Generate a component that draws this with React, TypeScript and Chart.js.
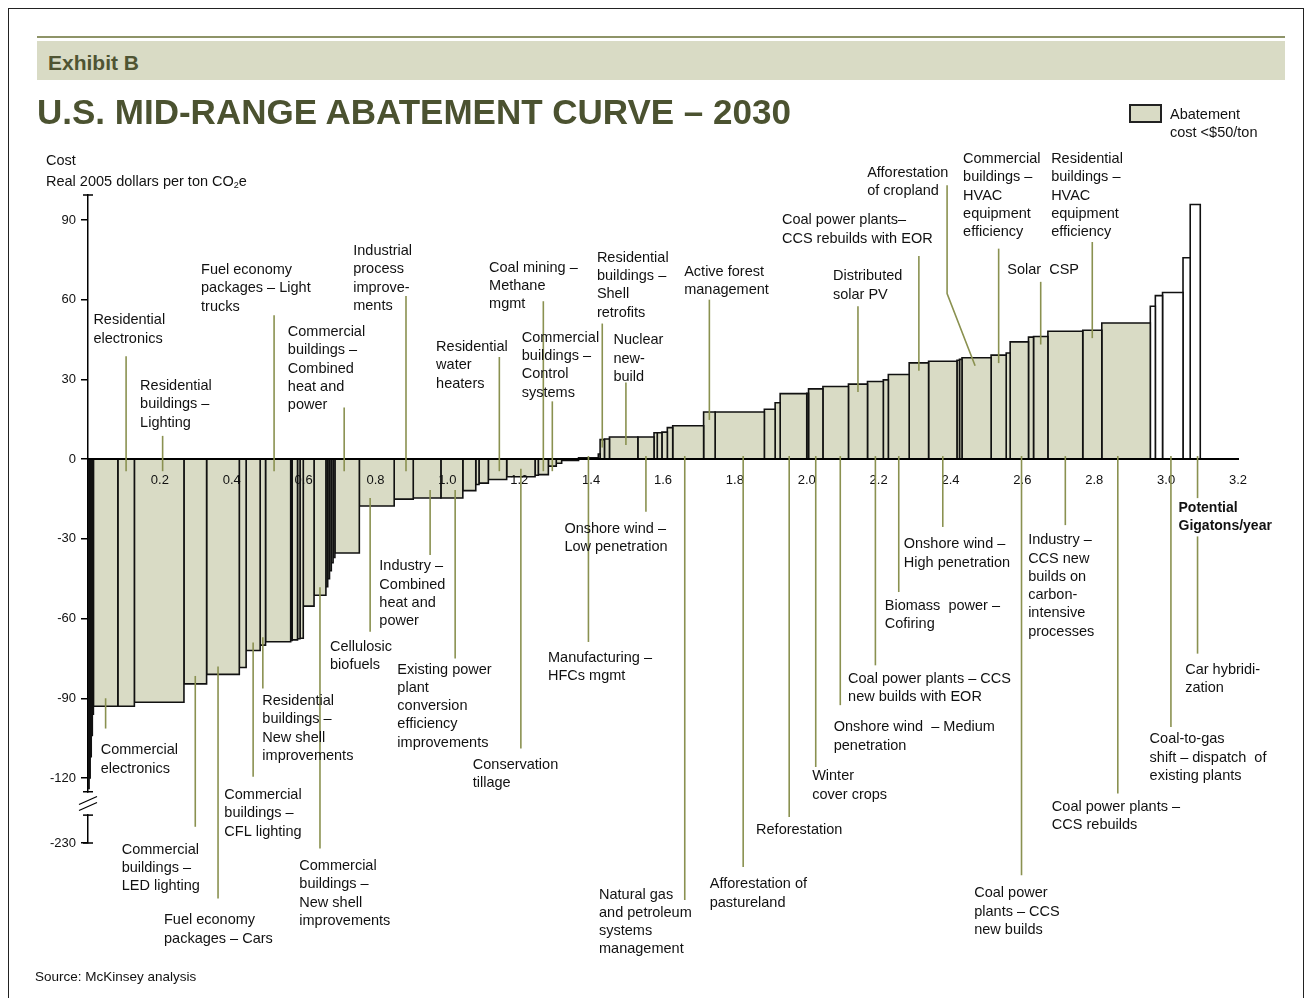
import React, { useEffect, useRef } from 'react';
import { Chart, registerables } from 'chart.js';

Chart.register(...registerables);

// ---- Data: abatement levers in curve order ----
// potential of each lever, Gigatons CO2e per year (bar widths)
const potentials: number[] = [
  0.003, 0.003, 0.003, 0.003, 0.003, 0.068, 0.046, 0.138, 0.063, 0.091,
  0.019, 0.039, 0.015, 0.070, 0.004, 0.015, 0.007, 0.009, 0.030, 0.033,
  0.005, 0.005, 0.005, 0.005, 0.005, 0.068, 0.097, 0.053, 0.077, 0.061,
  0.036, 0.009, 0.026, 0.051, 0.079, 0.009, 0.028, 0.022, 0.015, 0.047,
  0.055, 0.005, 0.012, 0.014, 0.079, 0.045, 0.009, 0.013, 0.015, 0.015,
  0.086, 0.032, 0.137, 0.030, 0.014, 0.074, 0.005, 0.040, 0.071, 0.053,
  0.044, 0.014, 0.058, 0.054, 0.079, 0.007, 0.007, 0.081, 0.042, 0.011,
  0.051, 0.014, 0.040, 0.097, 0.053, 0.135, 0.014, 0.020, 0.057, 0.020,
  0.028,
];
// cost of each lever, real 2005 dollars per ton CO2e (bar heights, axis units)
const costs: number[] = [
  -124, -120, -112, -104, -96, -93, -93, -91.5, -84.6, -81,
  -78.4, -72, -70, -68.7, -68.2, -68, -67.6, -67.4, -55.3, -51.2,
  -48, -45, -42, -39, -37, -35.3, -17.6, -15, -14.6, -14.6,
  -11.8, -9.5, -9, -7.6, -6.6, -6, -5.8, -2.6, -1.5, -0.5,
  0.5, 2, 7.4, 7.6, 8.4, 8.4, 10, 10, 10.2, 11.9,
  12.6, 17.8, 17.8, 18.8, 21.3, 24.7, 24.8, 26.5, 27.4, 28.3,
  29.3, 29.9, 31.9, 36.3, 36.9, 37.3, 37.6, 38.2, 39.2, 40,
  44.2, 46, 46.2, 48.2, 48.6, 51.3, 57.6, 61.6, 62.8, 75.9,
  95.9,
];
const shadedBelow = 55; // levers drawn shaded (legend: abatement cost < $50/ton)

const xMin = 0;
const xMax = 3.2;
const xStep = 0.2;
const yMin = -144.5; // position of the broken-axis "-230" tick
const yMax = 99.5;
const yTickValues = [90, 60, 30, 0, -30, -60, -90, -120, -144.5];
const yTickLabels = ['90', '60', '30', '0', '-30', '-60', '-90', '-120', '-230'];

type Note = { lines: string[]; bar: number; frac?: number; end: number; tx: number; ty: number; bend?: [number, number] };
// Callout labels: lever index, leader end (cost units), label anchor (Gt, cost)
const notes: Note[] = [
  { lines: ['Residential', 'electronics'], bar: 6, end: 38.8, tx: 0.015, ty: 52.3 },
  { lines: ['Residential', 'buildings –', 'Lighting'], bar: 7, frac: 0.57, end: 8.8, tx: 0.145, ty: 27.6 },
  { lines: ['Fuel economy', 'packages – Light', 'trucks'], bar: 13, frac: 0.34, end: 54.2, tx: 0.3145, ty: 71.2 },
  { lines: ['Commercial', 'buildings –', 'Combined', 'heat and', 'power'], bar: 25, frac: 0.38, end: 19.5, tx: 0.556, ty: 47.9 },
  { lines: ['Industrial', 'process', 'improve-', 'ments'], bar: 27, frac: 0.62, end: 61.5, tx: 0.738, ty: 78.4 },
  { lines: ['Residential', 'water', 'heaters'], bar: 33, frac: 0.6, end: 38.5, tx: 0.9686, ty: 42.3 },
  { lines: ['Coal mining –', 'Methane', 'mgmt'], bar: 36, end: 59.5, tx: 1.116, ty: 72.2 },
  { lines: ['Commercial', 'buildings –', 'Control', 'systems'], bar: 37, end: 21.8, tx: 1.207, ty: 45.8 },
  { lines: ['Residential', 'buildings –', 'Shell', 'retrofits'], bar: 42, end: 51.1, tx: 1.416, ty: 75.9 },
  { lines: ['Nuclear', 'new-', 'build'], bar: 44, frac: 0.58, end: 28.9, tx: 1.462, ty: 44.8 },
  { lines: ['Active forest', 'management'], bar: 51, end: 60.1, tx: 1.659, ty: 70.5 },
  { lines: ['Distributed', 'solar PV'], bar: 59, end: 57.6, tx: 2.073, ty: 68.9 },
  { lines: ['Coal power plants–', 'CCS rebuilds with EOR'], bar: 63, end: 76.5, tx: 1.931, ty: 90 },
  { lines: ['Afforestation', 'of cropland'], bar: 67, frac: 0.45, end: 103.2, tx: 2.168, ty: 107.9, bend: [2.3905, 62.4] },
  { lines: ['Commercial', 'buildings –', 'HVAC', 'equipment', 'efficiency'], bar: 68, end: 79.3, tx: 2.435, ty: 113 },
  { lines: ['Residential', 'buildings –', 'HVAC', 'equipment', 'efficiency'], bar: 74, end: 81.8, tx: 2.68, ty: 113 },
  { lines: ['Solar  CSP'], bar: 72, end: 66.8, tx: 2.558, ty: 71.2 },
  { lines: ['Commercial', 'electronics'], bar: 5, end: -101.4, tx: 0.0353, ty: -109.6 },
  { lines: ['Commercial', 'buildings –', 'LED lighting'], bar: 8, end: -138.4, tx: 0.0938, ty: -147 },
  { lines: ['Fuel economy', 'packages – Cars'], bar: 9, frac: 0.35, end: -165.4, tx: 0.2115, ty: -173.6 },
  { lines: ['Commercial', 'buildings –', 'CFL lighting'], bar: 11, end: -119.6, tx: 0.3793, ty: -126.5 },
  { lines: ['Residential', 'buildings –', 'New shell', 'improvements'], bar: 12, end: -86.3, tx: 0.4851, ty: -91.1 },
  { lines: ['Commercial', 'buildings –', 'New shell', 'improvements'], bar: 19, end: -146.6, tx: 0.588, ty: -153.2 },
  { lines: ['Cellulosic', 'biofuels'], bar: 26, frac: 0.31, end: -65, tx: 0.6735, ty: -70.7 },
  { lines: ['Industry –', 'Combined', 'heat and', 'power'], bar: 28, frac: 0.61, end: -36.1, tx: 0.8107, ty: -40.3 },
  { lines: ['Existing power', 'plant', 'conversion', 'efficiency', 'improvements'], bar: 29, frac: 0.65, end: -75, tx: 0.8608, ty: -79.2 },
  { lines: ['Conservation', 'tillage'], bar: 34, end: -108.9, tx: 1.0707, ty: -115.2 },
  { lines: ['Manufacturing –', 'HFCs mgmt'], bar: 40, end: -68.8, tx: 1.28, ty: -74.8 },
  { lines: ['Onshore wind –', 'Low penetration'], bar: 45, end: -19.8, tx: 1.3256, ty: -26.1 },
  { lines: ['Natural gas', 'and petroleum', 'systems', 'management'], bar: 50, frac: 0.39, end: -166, tx: 1.422, ty: -163.9 },
  { lines: ['Afforestation of', 'pastureland'], bar: 52, frac: 0.57, end: -153.5, tx: 1.73, ty: -160.1 },
  { lines: ['Reforestation'], bar: 55, frac: 0.34, end: -134.7, tx: 1.859, ty: -139.7 },
  { lines: ['Winter', 'cover crops'], bar: 57, end: -115.9, tx: 2.015, ty: -119.4 },
  { lines: ['Onshore wind  – Medium', 'penetration'], bar: 58, frac: 0.68, end: -92.6, tx: 2.075, ty: -101 },
  { lines: ['Coal power plants – CCS', 'new builds with EOR'], bar: 60, end: -77.6, tx: 2.115, ty: -82.6 },
  { lines: ['Biomass  power –', 'Cofiring'], bar: 62, end: -50, tx: 2.217, ty: -55.3 },
  { lines: ['Onshore wind –', 'High penetration'], bar: 64, end: -25.5, tx: 2.27, ty: -32.1 },
  { lines: ['Coal power', 'plants – CCS', 'new builds'], bar: 70, frac: 0.62, end: -156.6, tx: 2.466, ty: -163.5 },
  { lines: ['Industry –', 'CCS new', 'builds on', 'carbon-', 'intensive', 'processes'], bar: 73, end: -24.8, tx: 2.616, ty: -30.5 },
  { lines: ['Coal power plants –', 'CCS rebuilds'], bar: 75, frac: 0.33, end: -125.9, tx: 2.682, ty: -131 },
  { lines: ['Coal-to-gas', 'shift – dispatch  of', 'existing plants'], bar: 78, frac: 0.41, end: -100.8, tx: 2.954, ty: -105.5 },
  { lines: ['Car hybridi-', 'zation'], bar: 80, frac: 0.73, end: -73.2, tx: 3.053, ty: -79.2 },
];
const xAxisTitle = ['Potential', 'Gigatons/year'];
const xAxisTitleAt: [number, number] = [3.0345, -18.4];

const FONT = '"Liberation Sans", Arial, Helvetica, sans-serif';
const FILL = '#d9dbc5';
const LEADER = '#8a9150';
const LINE_H = 18.3;

const edges: number[] = [0];
potentials.forEach((w) => edges.push(edges[edges.length - 1] + w));

const notesPlugin = {
  id: 'abatementNotes',
  afterDraw(chart: any) {
    const { ctx } = chart;
    const xs = chart.scales.x;
    const ys = chart.scales.y;
    ctx.save();

    // broken y axis
    const ax = xs.getPixelForValue(0);
    const g1 = ys.getPixelForValue(-125.2);
    const g2 = ys.getPixelForValue(-134);
    ctx.fillStyle = '#fff';
    ctx.fillRect(ax - 10, g1 + 1, 20, g2 - g1 - 2);
    ctx.strokeStyle = '#000';
    ctx.lineWidth = 1.2;
    const mid = (g1 + g2) / 2;
    for (const d of [-3, 3]) {
      ctx.beginPath();
      ctx.moveTo(ax - 9, mid + d + 4);
      ctx.lineTo(ax + 9, mid + d - 4);
      ctx.stroke();
    }
    ctx.lineWidth = 1.5;
    for (const yy of [g1, g2, ys.bottom, ys.top]) {
      ctx.beginPath();
      ctx.moveTo(ax - 5, yy);
      ctx.lineTo(ax + 5, yy);
      ctx.stroke();
    }

    // leader lines
    ctx.strokeStyle = LEADER;
    ctx.lineWidth = 1.6;
    for (const n of notes) {
      const x0 = edges[n.bar];
      const x1 = edges[n.bar + 1];
      const lx = xs.getPixelForValue(x0 + (n.frac ?? 0.5) * (x1 - x0));
      const c = costs[n.bar];
      const above = n.end > Math.max(c, 0);
      const inner = above ? (c > 0 ? c - 3 : -4.5) : c < 0 ? c + 3 : 1.2;
      ctx.beginPath();
      if (n.bend) {
        const bx = xs.getPixelForValue(n.bend[0]);
        ctx.moveTo(bx, ys.getPixelForValue(n.end));
        ctx.lineTo(bx, ys.getPixelForValue(n.bend[1]));
        ctx.lineTo(lx, ys.getPixelForValue(inner));
      } else {
        ctx.moveTo(lx, ys.getPixelForValue(n.end));
        ctx.lineTo(lx, ys.getPixelForValue(inner));
      }
      ctx.stroke();
    }

    // label texts
    ctx.fillStyle = '#111';
    ctx.font = `14.5px ${FONT}`;
    ctx.textBaseline = 'middle';
    ctx.textAlign = 'left';
    for (const n of notes) {
      const tx = xs.getPixelForValue(n.tx);
      const ty = ys.getPixelForValue(n.ty);
      n.lines.forEach((t, i) => ctx.fillText(t, tx, ty + i * LINE_H));
    }

    // x axis title with white backing
    ctx.font = `bold 14px ${FONT}`;
    const px = xs.getPixelForValue(xAxisTitleAt[0]);
    const py = ys.getPixelForValue(xAxisTitleAt[1]);
    const w = Math.max(...xAxisTitle.map((t) => ctx.measureText(t).width));
    ctx.fillStyle = '#fff';
    ctx.fillRect(px - 2, py - 10, w + 4, LINE_H * (xAxisTitle.length - 1) + 20);
    ctx.fillStyle = '#111';
    xAxisTitle.forEach((t, i) => ctx.fillText(t, px, py + i * LINE_H));
    ctx.restore();
  },
};

export default function App() {
  const ref = useRef<HTMLCanvasElement>(null);

  useEffect(() => {
    const datasets = costs.map((c, i) => ({
      label: `lever ${i + 1}`,
      data: [
        { x: edges[i], y: 0 },
        { x: edges[i], y: c },
        { x: edges[i + 1], y: c },
        { x: edges[i + 1], y: 0 },
      ],
      borderColor: '#111',
      borderWidth: 1.6,
      backgroundColor: c < shadedBelow ? FILL : '#ffffff',
      fill: 'origin',
      pointRadius: 0,
      pointHoverRadius: 0,
      tension: 0,
      borderJoinStyle: 'miter',
    }));

    const chart = new Chart(ref.current as HTMLCanvasElement, {
      type: 'line',
      data: { datasets } as any,
      plugins: [notesPlugin],
      options: {
        animation: false,
        responsive: true,
        maintainAspectRatio: false,
        events: [],
        layout: { padding: { left: 0, top: 195, right: 73, bottom: 155 } },
        plugins: {
          legend: { display: false },
          tooltip: { enabled: false },
        },
        scales: {
          x: {
            type: 'linear',
            min: xMin,
            max: xMax,
            position: { y: 0 } as any,
            grid: { display: false, drawTicks: false },
            border: { display: true, color: '#000', width: 2, z: 1 },
            ticks: {
              z: 1,
              stepSize: xStep,
              padding: 13,
              color: '#111',
              autoSkip: false,
              maxRotation: 0,
              font: { family: FONT, size: 13 },
              callback: (v: any) => (Number(v) < 0.01 ? '' : Number(v).toFixed(1)),
            },
          },
          y: {
            type: 'linear',
            min: yMin,
            max: yMax,
            afterFit: (s: any) => {
              s.width = 88;
            },
            afterBuildTicks: (s: any) => {
              s.ticks = yTickValues.map((v) => ({ value: v }));
            },
            grid: { drawOnChartArea: false, drawTicks: true, tickLength: 7, color: '#000', lineWidth: 1.5 },
            border: { display: true, color: '#000', width: 1.5 },
            ticks: {
              padding: 5,
              color: '#111',
              font: { family: FONT, size: 13 },
              callback: (v: any) => {
                const k = yTickValues.indexOf(Number(v));
                return k >= 0 ? yTickLabels[k] : '';
              },
            },
          },
        },
      } as any,
    });
    return () => chart.destroy();
  }, []);

  const abs = (l: number, t: number, extra: React.CSSProperties = {}): React.CSSProperties => ({
    position: 'absolute',
    left: l,
    top: t,
    whiteSpace: 'nowrap',
    ...extra,
  });

  return (
    <div
      style={{
        position: 'absolute',
        left: 0,
        top: 0,
        width: 1311,
        height: 998,
        overflow: 'hidden',
        background: '#fff',
        fontFamily: FONT,
        color: '#111',
      }}
    >
      <div style={{ position: 'absolute', left: 0, top: 0, width: 1311, height: 998 }}>
        <canvas ref={ref} />
      </div>
      <div style={abs(8, 8, { width: 1294, height: 1000, borderTop: '1px solid #222', borderLeft: '1px solid #222', borderRight: '1px solid #222', pointerEvents: 'none' })} />
      <div style={abs(37, 36, { width: 1248, height: 2, background: '#8e9468' })} />
      <div style={abs(37, 41, { width: 1248, height: 39, background: FILL })} />
      <div style={abs(48, 51, { fontSize: 21, fontWeight: 'bold', lineHeight: '24px', color: '#4f5433' })}>Exhibit B</div>
      <div style={abs(37, 91, { fontSize: 35, fontWeight: 'bold', lineHeight: '42px', color: '#4b5230' })}>
        U.S. MID-RANGE ABATEMENT CURVE – 2030
      </div>
      <div style={abs(46, 151, { fontSize: 14.5, lineHeight: '18px' })}>Cost</div>
      <div style={abs(46, 171, { fontSize: 14.5, lineHeight: '20px' })}>
        Real 2005 dollars per ton CO<sub style={{ fontSize: 9, verticalAlign: '-2px' }}>2</sub>e
      </div>
      <div style={abs(1129, 104, { width: 33, height: 19, boxSizing: 'border-box', border: '2px solid #222', background: FILL })} />
      <div style={abs(1170, 105, { fontSize: 14.5, lineHeight: '18px' })}>
        Abatement
        <br />
        cost &lt;$50/ton
      </div>
      <div style={abs(35, 968, { fontSize: 13.5, lineHeight: '18px' })}>Source: McKinsey analysis</div>
    </div>
  );
}
